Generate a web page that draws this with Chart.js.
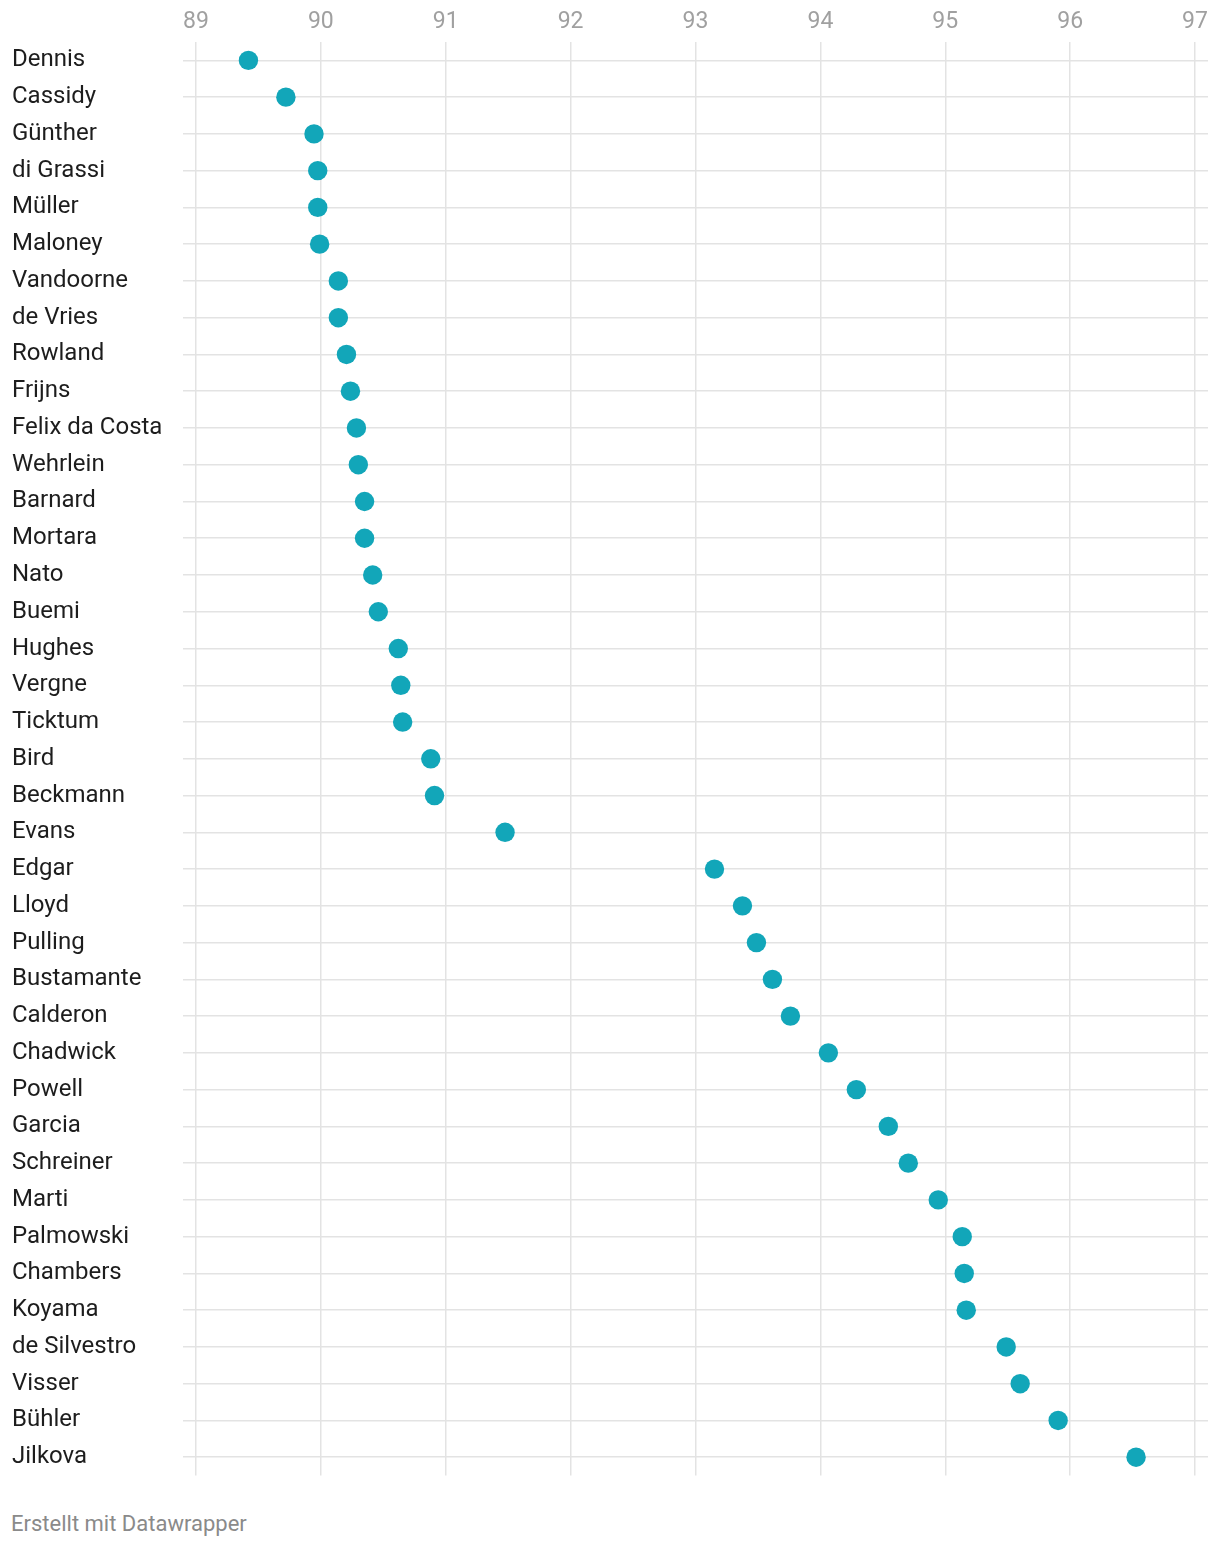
<!DOCTYPE html>
<html>
<head>
<meta charset="utf-8">
<script src="https://cdn.jsdelivr.net/npm/chart.js@4/dist/chart.umd.min.js"></script>
<style>
    body { margin: 0; background: #fff; font-family: Roboto, sans-serif; }
    #wrap { position: relative; width: 1220px; height: 1490px; }
    #note { position: absolute; left: 11px; top: 1511px; font-size: 22px; color: #8a8a8a; }
</style>
</head>
<body>
<div id="wrap"><canvas id="chart"></canvas></div>
<div id="note">Erstellt mit Datawrapper</div>
<script>
// Fahrer, von oben nach unten
var drivers = [
    "Dennis", "Cassidy", "Günther", "di Grassi", "Müller", "Maloney",
    "Vandoorne", "de Vries", "Rowland", "Frijns", "Felix da Costa", "Wehrlein",
    "Barnard", "Mortara", "Nato", "Buemi", "Hughes", "Vergne", "Ticktum",
    "Bird", "Beckmann", "Evans", "Edgar", "Lloyd", "Pulling", "Bustamante",
    "Calderon", "Chadwick", "Powell", "Garcia", "Schreiner", "Marti",
    "Palmowski", "Chambers", "Koyama", "de Silvestro", "Visser", "Bühler", "Jilkova"
];

var values = [
    89.42, 89.72, 89.945, 89.975, 89.975, 89.99,
    90.14, 90.14, 90.205, 90.237, 90.285, 90.30,
    90.35, 90.35, 90.415, 90.46, 90.62, 90.64, 90.655,
    90.88, 90.91, 91.475, 93.152, 93.376, 93.488, 93.616,
    93.76, 94.064, 94.288, 94.544, 94.704, 94.944,
    95.136, 95.152, 95.168, 95.488, 95.60, 95.904, 96.528
];

var xTicks = [89, 90, 91, 92, 93, 94, 95, 96, 97];

var points = drivers.map(function (name, i) {
    return { x: values[i], y: name };
});

var context = document.getElementById('chart').getContext('2d');

var myChart = new Chart(context, {
    type: 'scatter',
    data: {
        labels: drivers,
        datasets: [{
            data: points,
            backgroundColor: '#12a6b9',
            borderWidth: 0,
            pointRadius: 9.7,
            pointHoverRadius: 9.7
        }]
    },
    options: {
        responsive: true,
        maintainAspectRatio: false,
        animation: false,
        layout: {
            padding: { left: 12, right: 12, top: 0, bottom: 14 }
        },
        plugins: {
            legend: { display: false },
            tooltip: { enabled: false }
        },
        scales: {
            x: {
                type: 'linear',
                position: 'top',
                min: 88.896,
                max: 97.104,
                afterBuildTicks: function (scale) {
                    scale.ticks = xTicks.map(function (v) { return { value: v }; });
                },
                afterFit: function (scale) { scale.height = 42; },
                border: { display: false },
                grid: { color: '#e3e3e3', lineWidth: 1.5, drawTicks: false },
                ticks: {
                    padding: 6,
                    color: '#a0a0a0',
                    font: { family: 'Roboto', size: 23 },
                    maxRotation: 0
                }
            },
            y: {
                type: 'category',
                labels: drivers,
                offset: true,
                afterFit: function (scale) { scale.width = 171; },
                border: { display: false },
                grid: { color: '#e3e3e3', lineWidth: 1.5, drawTicks: false, offset: false },
                ticks: {
                    crossAlign: 'far',
                    padding: 0,
                    color: '#1d1d1d',
                    autoSkip: false,
                    font: { family: 'Roboto', size: 24 }
                }
            }
        }
    }
});
</script>
</body>
</html>
